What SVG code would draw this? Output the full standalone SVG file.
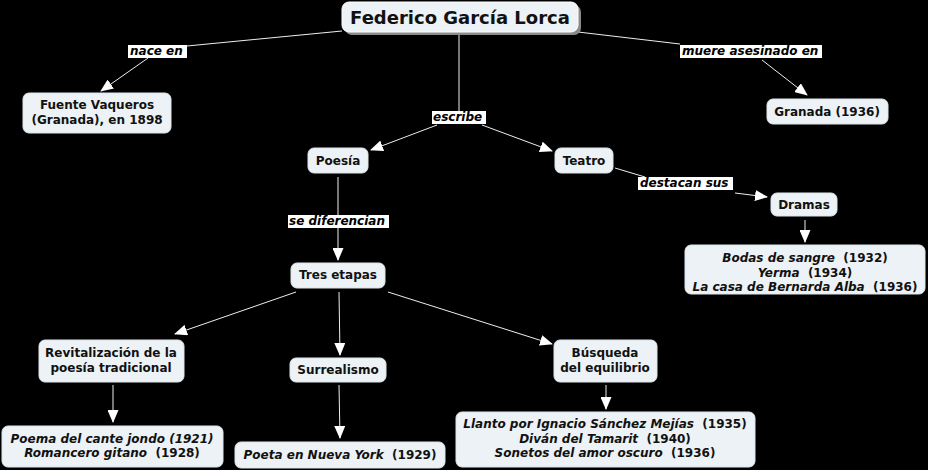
<svg xmlns="http://www.w3.org/2000/svg" width="928" height="470" viewBox="0 0 928 470">
<style>
.n{fill:#ECF2F5;stroke:#DDE6EA;stroke-width:1}
.t{font-family:"DejaVu Sans",Verdana,sans-serif;font-weight:bold;font-size:12px;fill:#111;text-anchor:middle}
.i{font-style:italic}
.lb{fill:#fff}
.lt{font-family:"DejaVu Sans",Verdana,sans-serif;font-weight:bold;font-style:italic;font-size:12px;fill:#000}
.c{stroke:#eee;stroke-width:1;fill:none}
.a{marker-end:url(#ah)}
</style>
<defs>
<marker id="ah" markerUnits="userSpaceOnUse" markerWidth="13" markerHeight="11" viewBox="0 0 13 11" refX="12" refY="5.5" orient="auto">
<path d="M0,0 L13,5.5 L0,11 z" fill="#fff"/>
</marker>
</defs>
<rect width="928" height="470" fill="#000"/>
<g id="connectors">
<line class="c" x1="342" y1="31" x2="187" y2="46"/>
<line class="c a" x1="148" y1="58" x2="101" y2="91"/>
<line class="c" x1="578" y1="32" x2="680" y2="44"/>
<line class="c a" x1="762" y1="60" x2="807" y2="95"/>
<line class="c" x1="459" y1="34" x2="459" y2="111"/>
<line class="c a" x1="437" y1="125" x2="371" y2="150"/>
<line class="c a" x1="482" y1="125" x2="552" y2="151"/>
<line class="c" x1="615" y1="168" x2="645" y2="177"/>
<line class="c a" x1="735" y1="193" x2="767" y2="197"/>
<line class="c a" x1="805" y1="220" x2="805" y2="242"/>
<line class="c" x1="338" y1="177" x2="338" y2="215"/>
<line class="c a" x1="338" y1="228" x2="338" y2="260"/>
<line class="c a" x1="296" y1="292" x2="175" y2="334"/>
<line class="c a" x1="339" y1="292" x2="340" y2="355"/>
<line class="c a" x1="388" y1="292" x2="552" y2="344"/>
<line class="c a" x1="113" y1="385" x2="113" y2="422"/>
<line class="c a" x1="339" y1="385" x2="340" y2="438"/>
<line class="c a" x1="606" y1="385" x2="606" y2="409"/>
</g>
<g id="labels">
<rect class="lb" x="128" y="45" width="59" height="13"/><text class="lt" x="130" y="55">nace en</text>
<rect class="lb" x="680" y="45" width="142" height="13"/><text class="lt" x="682" y="55">muere asesinado en</text>
<rect class="lb" x="432" y="111" width="54" height="13"/><text class="lt" x="433" y="121">escribe</text>
<rect class="lb" x="638" y="177" width="95" height="13"/><text class="lt" x="640" y="187">destacan sus</text>
<rect class="lb" x="288" y="215" width="101" height="13"/><text class="lt" x="289" y="225">se diferencian</text>
</g>
<g id="title">
<rect x="345" y="5" width="236" height="30" rx="7" fill="#8a8a8a"/>
<rect x="342" y="2" width="236" height="30" rx="7" fill="#ECF2F5" stroke="#fff" stroke-width="1"/>
<text class="t" x="460" y="24" style="font-size:18px">Federico García Lorca</text>
</g>
<g id="fuente">
<rect class="n" x="23" y="93" width="148" height="40" rx="6"/>
<text class="t" x="97" y="109">Fuente Vaqueros</text>
<text class="t" x="97" y="124">(Granada), en 1898</text>
</g>
<g id="granada">
<rect class="n" x="767" y="99" width="121" height="25" rx="6"/>
<text class="t" x="827" y="116">Granada (1936)</text>
</g>
<g id="poesia">
<rect class="n" x="308" y="148" width="60" height="25" rx="6"/>
<text class="t" x="338" y="165">Poesía</text>
</g>
<g id="teatro">
<rect class="n" x="555" y="148" width="58" height="25" rx="6"/>
<text class="t" x="584" y="165">Teatro</text>
</g>
<g id="dramas">
<rect class="n" x="771" y="193" width="66" height="23" rx="6"/>
<text class="t" x="804" y="209">Dramas</text>
</g>
<g id="dramas-list">
<rect class="n" x="685" y="245" width="240" height="49" rx="6"/>
<text class="t" x="805" y="262" xml:space="preserve"><tspan class="i">Bodas de sangre</tspan>  (1932)</text>
<text class="t" x="805" y="276.5" xml:space="preserve"><tspan class="i">Yerma</tspan>  (1934)</text>
<text class="t" x="805" y="291" xml:space="preserve"><tspan class="i">La casa de Bernarda Alba</tspan>  (1936)</text>
</g>
<g id="tres">
<rect class="n" x="291" y="263" width="94" height="25" rx="6"/>
<text class="t" x="338" y="279">Tres etapas</text>
</g>
<g id="revitalizacion">
<rect class="n" x="39" y="340" width="145" height="42" rx="6"/>
<text class="t" x="111" y="357">Revitalización de la</text>
<text class="t" x="111" y="372">poesía tradicional</text>
</g>
<g id="poema">
<rect class="n" x="2" y="426" width="221" height="41" rx="6"/>
<text class="t i" x="112" y="443">Poema del cante jondo (1921)</text>
<text class="t" x="112" y="457" xml:space="preserve"><tspan class="i">Romancero gitano</tspan>  (1928)</text>
</g>
<g id="surrealismo">
<rect class="n" x="290" y="358" width="96" height="24" rx="6"/>
<text class="t" x="338" y="374">Surrealismo</text>
</g>
<g id="poeta">
<rect class="n" x="235" y="442" width="210" height="26" rx="6"/>
<text class="t" x="340" y="459" xml:space="preserve"><tspan class="i">Poeta en Nueva York</tspan>  (1929)</text>
</g>
<g id="busqueda">
<rect class="n" x="554" y="340" width="103" height="42" rx="6"/>
<text class="t" x="605" y="357">Búsqueda</text>
<text class="t" x="605" y="372">del equilibrio</text>
</g>
<g id="llanto">
<rect class="n" x="456" y="412" width="299" height="55" rx="6"/>
<text class="t" x="605" y="428" xml:space="preserve"><tspan class="i">Llanto por Ignacio Sánchez Mejías</tspan>  (1935)</text>
<text class="t" x="605" y="442.5" xml:space="preserve"><tspan class="i">Diván del Tamarit</tspan>  (1940)</text>
<text class="t" x="605" y="457" xml:space="preserve"><tspan class="i">Sonetos del amor oscuro</tspan>  (1936)</text>
</g>
</svg>
